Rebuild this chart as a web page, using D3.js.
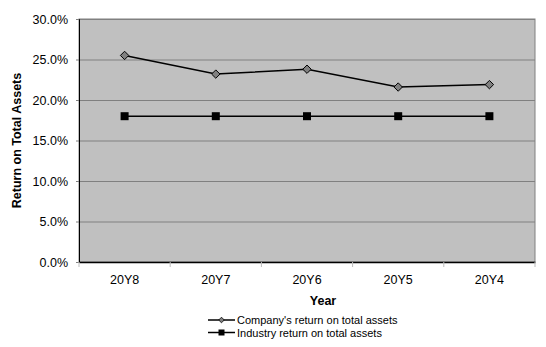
<!DOCTYPE html>
<html>
<head>
<meta charset="utf-8">
<script src="https://cdn.jsdelivr.net/npm/d3@7"></script>
<style>
  body { margin: 0; background: #fff; }
  text { font-family: "Liberation Sans", Arial, sans-serif; }
</style>
</head>
<body>
<svg id="chart" width="546" height="347"></svg>
<script>
var years = ["20Y8", "20Y7", "20Y6", "20Y5", "20Y4"];
var companyReturn = [25.5, 23.2, 23.8, 21.6, 21.9];
var industryReturn = [18.0, 18.0, 18.0, 18.0, 18.0];
var yTicks = [0, 5, 10, 15, 20, 25, 30];
var seriesNames = ["Company's return on total assets", "Industry return on total assets"];

var svg = d3.select("#chart");
var margin = {left: 79, top: 19, right: 11, bottom: 85};
var w = 546 - margin.left - margin.right,
    h = 347 - margin.top - margin.bottom;

var x = d3.scaleBand().domain(years).range([0, w]);
var y = d3.scaleLinear().domain([0, 30]).range([h, 0]);

var g = svg.append("g").attr("transform", "translate(" + margin.left + "," + margin.top + ")");

// plot area
g.append("rect").attr("width", w).attr("height", h)
  .attr("fill", "#c0c0c0").attr("stroke", "#808080").attr("stroke-width", 1);

// grid lines
g.selectAll(".grid").data(yTicks.slice(1)).enter().append("line")
  .attr("x1", 0).attr("x2", w)
  .attr("y1", function(d) { return y(d) + 0.5; })
  .attr("y2", function(d) { return y(d) + 0.5; })
  .attr("stroke", "#808080");

// y axis
var yAxis = g.append("g")
  .call(d3.axisLeft(y).tickValues(yTicks).tickSize(3).tickFormat(function(d) { return d.toFixed(1) + "%"; }));
yAxis.select(".domain").attr("stroke", "#000");
yAxis.selectAll(".tick line").attr("stroke", "#808080");
yAxis.selectAll("text").attr("font-size", 12.5).attr("fill", "#000").attr("dx", -5);

// x axis
var xAxis = g.append("g").attr("transform", "translate(0," + h + ")")
  .call(d3.axisBottom(x).tickSize(0));
xAxis.select(".domain").attr("stroke", "#000").attr("stroke-width", 1.5);
xAxis.selectAll("text").attr("font-size", 12.5).attr("fill", "#000").attr("dy", "1.55em");
xAxis.selectAll(".sep").data(years.concat([null])).enter().append("line")
  .attr("x1", function(d, i) { return i * x.step(); })
  .attr("x2", function(d, i) { return i * x.step(); })
  .attr("y1", 0).attr("y2", 5).attr("stroke", "#bbbbbb");

// axis titles
g.append("text").attr("transform", "translate(" + (-58) + "," + (h / 2) + ") rotate(-90)")
  .attr("text-anchor", "middle").attr("font-size", 12.5).attr("font-weight", "bold")
  .text("Return on Total Assets");
g.append("text").attr("x", w / 2 + 16).attr("y", h + 43)
  .attr("text-anchor", "middle").attr("font-size", 12.5).attr("font-weight", "bold")
  .text("Year");

var cx = function(d, i) { return x(years[i]) + x.bandwidth() / 2; };
var line = d3.line().x(cx).y(function(d) { return y(d); });

// industry series
g.append("path").datum(industryReturn).attr("d", line)
  .attr("fill", "none").attr("stroke", "#000").attr("stroke-width", 1.5);
g.selectAll(".sq").data(industryReturn).enter().append("rect")
  .attr("x", function(d, i) { return cx(d, i) - 4; })
  .attr("y", function(d) { return y(d) - 4; })
  .attr("width", 8).attr("height", 8).attr("fill", "#000");

// company series
g.append("path").datum(companyReturn).attr("d", line)
  .attr("fill", "none").attr("stroke", "#000").attr("stroke-width", 1.5);
var diamond = d3.symbol().type(d3.symbolDiamond2).size(45);
g.selectAll(".dm").data(companyReturn).enter().append("path")
  .attr("d", diamond)
  .attr("transform", function(d, i) { return "translate(" + cx(d, i) + "," + y(d) + ")"; })
  .attr("fill", "#808080").attr("stroke", "#000").attr("stroke-width", 1);

// legend
var leg = svg.append("g").attr("transform", "translate(208,320)");
seriesNames.forEach(function(name, i) {
  var row = leg.append("g").attr("transform", "translate(0," + (i * 12.5) + ")");
  row.append("line").attr("x1", 0).attr("x2", 27).attr("y1", 0).attr("y2", 0)
    .attr("stroke", "#000").attr("stroke-width", 1.5);
  if (i === 0) {
    row.append("path").attr("d", d3.symbol().type(d3.symbolDiamond2).size(20))
      .attr("transform", "translate(13.5,0)")
      .attr("fill", "#808080").attr("stroke", "#000").attr("stroke-width", 0.8);
  } else {
    row.append("rect").attr("x", 10.5).attr("y", -3).attr("width", 6).attr("height", 6).attr("fill", "#000");
  }
  row.append("text").attr("x", 29).attr("y", 4).attr("font-size", 11).attr("fill", "#000").text(name);
});
</script>
</body>
</html>
